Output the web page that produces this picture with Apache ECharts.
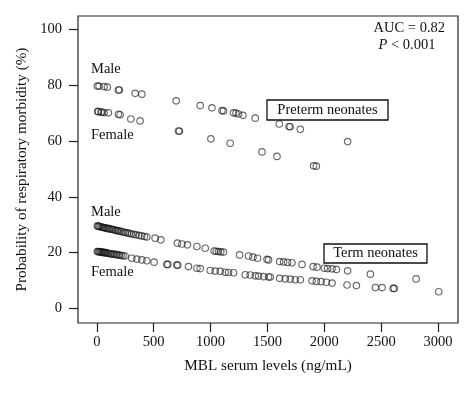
<!DOCTYPE html>
<html>
<head>
<meta charset="utf-8">
<script src="https://cdn.jsdelivr.net/npm/echarts@6/dist/echarts.min.js"></script>
<style>html,body{margin:0;padding:0;background:#fff}#c{width:474px;height:394px}</style>
</head>
<body>
<div id="c"></div>
<script>
// ---- data ----
var xTicks = [0, 500, 1000, 1500, 2000, 2500, 3000];
var yTicks = [0, 20, 40, 60, 80, 100];

var pretermMale = [
  [5,79.7],[20,79.7],[64,79.5],[93,79.3],[190,78.3],[199,78.3],[337,77.1],[396,76.8],
  [698,74.4],[909,72.7],[1012,71.9],[1100,70.9],[1114,70.8],[1202,70.1],[1223,70.0],
  [1246,69.7],[1285,69.2],[1393,68.2],[1604,66.1],[1690,65.2],[1700,65.1],[1789,64.2],[2205,59.8]
];
var pretermFemale = [
  [8,70.6],[15,70.5],[38,70.4],[44,70.3],[64,70.2],[102,70.1],[190,69.6],[205,69.4],
  [299,67.9],[381,67.2],[718,63.6],[727,63.5],[1003,60.8],[1173,59.2],[1452,56.1],
  [1584,54.5],[1906,51.1],[1930,51.0]
];
var termMale = [
  [5,29.6],[12,29.5],[20,29.4],[30,29.3],[40,29.2],[50,29.1],[60,29.0],[70,28.9],[80,28.8],
  [92,28.7],[105,28.6],[115,28.5],[128,28.4],[140,28.3],[152,28.2],[165,28.0],[178,27.9],
  [190,27.8],[205,27.7],[220,27.5],[235,27.4],[250,27.2],[268,27.1],[285,26.9],[305,26.7],
  [325,26.6],[345,26.4],[370,26.2],[395,26.0],[420,25.8],[440,25.6],[513,25.2],[563,24.6],
  [709,23.4],[748,23.1],[797,22.8],[880,22.2],[953,21.6],[1032,20.6],[1050,20.5],[1070,20.4],
  [1090,20.3],[1114,20.2],[1255,19.2],[1334,18.8],[1373,18.4],[1413,18.0],[1496,17.6],[1510,17.4],
  [1607,16.8],[1642,16.7],[1677,16.5],[1716,16.4],[1804,15.8],[1901,15.0],[1936,14.8],
  [2000,14.4],[2029,14.3],[2068,14.2],[2106,14.0],[2205,13.5],[2405,12.3],[2807,10.6]
];
var termFemale = [
  [5,20.4],[12,20.4],[20,20.3],[28,20.3],[36,20.2],[44,20.2],[52,20.1],[60,20.1],[68,20.0],
  [76,20.0],[86,19.9],[96,19.8],[108,19.7],[120,19.6],[132,19.5],[145,19.5],[158,19.4],
  [172,19.3],[186,19.2],[200,19.1],[215,19.0],[230,18.9],[249,18.8],[308,18.0],[352,17.7],
  [396,17.4],[440,17.1],[504,16.6],[616,15.8],[625,15.8],[704,15.6],[712,15.5],[806,15.0],
  [880,14.4],[909,14.3],[997,13.6],[1041,13.4],[1085,13.3],[1129,13.0],[1158,12.9],
  [1202,12.8],[1305,12.1],[1349,12.0],[1393,11.7],[1422,11.6],[1466,11.4],[1510,11.3],
  [1525,11.3],[1607,10.8],[1657,10.6],[1701,10.5],[1745,10.3],[1789,10.3],[1892,9.9],
  [1930,9.7],[1971,9.6],[2018,9.4],[2068,9.1],[2200,8.4],[2282,8.2],[2449,7.5],[2508,7.5],
  [2605,7.2],[2615,7.2],[3006,6.0]
];

// ---- chart ----
var FONT = '"Liberation Serif", "DejaVu Serif", serif';
var FS = 14.5;
var FT = 15.2;
var chart = echarts.init(document.getElementById('c'), null, {renderer: 'canvas'});

function sc(data) {
  return {
    type: 'scatter',
    data: data,
    symbol: 'circle',
    symbolSize: 6.5,
    silent: true,
    itemStyle: {color: 'rgba(0,0,0,0)', borderColor: 'rgba(20,20,20,0.8)', borderWidth: 1.15},
    z: 3
  };
}

function label(text, x, y, extra) {
  var s = {text: text, x: x, y: y, fontFamily: FONT, fontSize: FS, fill: '#111',
           align: 'left', verticalAlign: 'middle'};
  if (extra) for (var k in extra) s[k] = extra[k];
  return {type: 'text', z: 10, style: s};
}

chart.setOption({
  animation: false,
  backgroundColor: '#fff',
  grid: {left: 78, top: 16, right: 16, bottom: 71, show: true,
         borderColor: '#222', borderWidth: 1.2, backgroundColor: 'transparent'},
  xAxis: {
    type: 'value', min: -165, max: 3175,
    name: 'MBL serum levels (ng/mL)', nameLocation: 'middle', nameGap: 36,
    nameTextStyle: {fontFamily: FONT, fontSize: FT, color: '#111'},
    axisLine: {show: false, onZero: false},
    axisTick: {show: true, length: 9, customValues: xTicks, lineStyle: {color: '#222', width: 1.2}},
    axisLabel: {customValues: xTicks, margin: 12, fontFamily: FONT, fontSize: FS, color: '#111',
                formatter: function (v) { return String(v); }},
    splitLine: {show: false}
  },
  yAxis: {
    type: 'value', min: -5.2, max: 104.8,
    name: 'Probability of respiratory morbidity (%)', nameLocation: 'middle', nameGap: 46,
    nameTextStyle: {fontFamily: FONT, fontSize: FT, color: '#111'},
    axisLine: {show: false, onZero: false},
    axisTick: {show: true, length: 9, customValues: yTicks, lineStyle: {color: '#222', width: 1.2}},
    axisLabel: {customValues: yTicks, margin: 16, fontFamily: FONT, fontSize: FS, color: '#111',
                formatter: function (v) { return String(v); }},
    splitLine: {show: false}
  },
  series: [sc(pretermMale), sc(pretermFemale), sc(termMale), sc(termFemale)],
  graphic: [
    label('AUC = 0.82', 445, 28, {align: 'right'}),
    {type: 'text', z: 10, style: {
      text: '{i|P} < 0.001', x: 407, y: 45, align: 'center', verticalAlign: 'middle',
      fontFamily: FONT, fontSize: FS, fill: '#111',
      rich: {i: {fontStyle: 'italic', fontFamily: FONT, fontSize: FS, fill: '#111'}}
    }},
    label('Male', 91, 69),
    label('Female', 91, 135),
    label('Male', 91, 212),
    label('Female', 91, 272),
    {type: 'rect', z: 9, shape: {x: 267, y: 100, width: 121, height: 20},
     style: {fill: '#fff', stroke: '#111', lineWidth: 1.3}},
    label('Preterm neonates', 327.5, 110, {align: 'center'}),
    {type: 'rect', z: 9, shape: {x: 324, y: 244, width: 103, height: 19},
     style: {fill: '#fff', stroke: '#111', lineWidth: 1.3}},
    label('Term neonates', 375.5, 253.5, {align: 'center'})
  ]
});
</script>
</body>
</html>
